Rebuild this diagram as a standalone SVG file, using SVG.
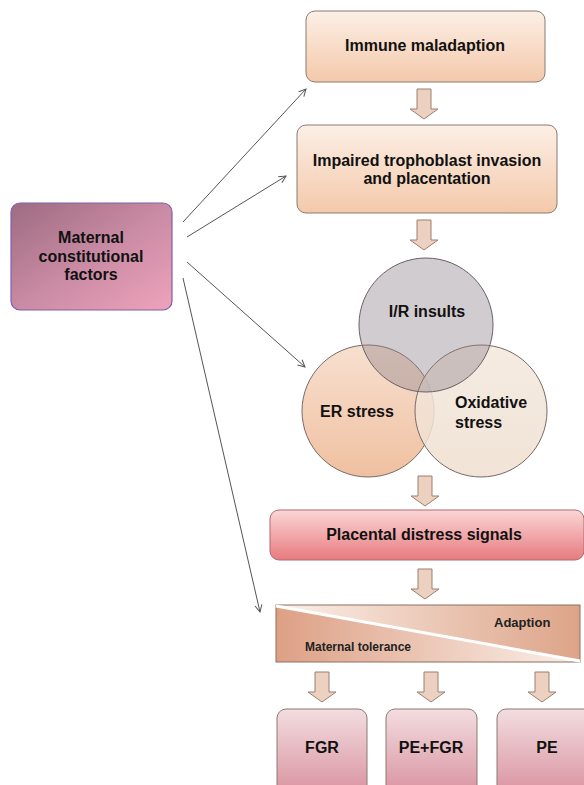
<svg xmlns="http://www.w3.org/2000/svg" width="584" height="785" viewBox="0 0 584 785">
<defs>
<linearGradient id="gMat" x1="0" y1="0" x2="1" y2="1"><stop offset="0" stop-color="#9c6c82"/><stop offset="0.5" stop-color="#c98aa3"/><stop offset="1" stop-color="#eea3bb"/></linearGradient>
<linearGradient id="gPeach" x1="0" y1="0" x2="0" y2="1"><stop offset="0" stop-color="#fcefe6"/><stop offset="1" stop-color="#f4c9aa"/></linearGradient>
<linearGradient id="gRed" x1="0" y1="0" x2="0" y2="1"><stop offset="0" stop-color="#fbd6d6"/><stop offset="1" stop-color="#e77b7f"/></linearGradient>
<linearGradient id="gOut" x1="0" y1="0" x2="0" y2="1"><stop offset="0" stop-color="#f2dde0"/><stop offset="1" stop-color="#d88e9c"/></linearGradient>
<linearGradient id="gER" x1="0" y1="0" x2="0" y2="1"><stop offset="0" stop-color="#f7e0d0"/><stop offset="1" stop-color="#f0c0a0"/></linearGradient>
<linearGradient id="gOx" x1="0" y1="0" x2="0" y2="1"><stop offset="0" stop-color="#f3e8dd"/><stop offset="1" stop-color="#efdfcf"/></linearGradient>
<linearGradient id="gAd" x1="0" y1="0" x2="1" y2="0"><stop offset="0" stop-color="#fbf0ea"/><stop offset="1" stop-color="#dda488"/></linearGradient>
<linearGradient id="gMt" x1="0" y1="0" x2="1" y2="0"><stop offset="0" stop-color="#dda085"/><stop offset="1" stop-color="#fbf0ea"/></linearGradient>
<marker id="ah" markerWidth="10" markerHeight="10" refX="8" refY="5" orient="auto" markerUnits="userSpaceOnUse"><path d="M1,1.5 L8,5 L1,8.5" fill="none" stroke="#555" stroke-width="1"/></marker>
<path id="blk" d="M-7,0 H7 V20 H14 L0,30 L-14,20 H-7 Z"/>
</defs>
<style>
.t{font-family:"Liberation Sans",Arial,sans-serif;font-weight:bold;font-size:16px;fill:#111;text-anchor:middle}
.l{text-anchor:start}
.s{font-family:"Liberation Sans",Arial,sans-serif;font-weight:bold;fill:#222}
.box{stroke:#8a7a70;stroke-width:1}
.ba{fill:#ecd0c0;stroke:#9a8070;stroke-width:1}
.con{stroke:#555;stroke-width:1;fill:none;marker-end:url(#ah)}
</style>
<rect width="584" height="785" fill="#fff"/>

<g id="connectors">
<line class="con" x1="183" y1="222" x2="306" y2="89"/>
<line class="con" x1="187" y1="237" x2="286" y2="176"/>
<line class="con" x1="187" y1="262" x2="305" y2="367"/>
<line class="con" x1="183" y1="278" x2="260" y2="612"/>
<use href="#blk" class="ba" x="424" y="89"/>
<use href="#blk" class="ba" x="424" y="220"/>
<use href="#blk" class="ba" x="425" y="476"/>
<use href="#blk" class="ba" x="425" y="569"/>
<use href="#blk" class="ba" x="322" y="672"/>
<use href="#blk" class="ba" x="431" y="672"/>
<use href="#blk" class="ba" x="542" y="672"/>
</g>

<g id="maternal">
<rect x="11" y="203" width="161" height="107" rx="9" fill="url(#gMat)" stroke="#8060a8" stroke-width="1.2"/>
<text class="t" x="91" y="243">Maternal</text>
<text class="t" x="91" y="262">constitutional</text>
<text class="t" x="91" y="280">factors</text>
</g>

<g id="immune">
<rect class="box" x="306" y="11" width="239" height="71" rx="9" fill="url(#gPeach)"/>
<text class="t" x="425" y="51">Immune maladaption</text>
</g>

<g id="impaired">
<rect class="box" x="297" y="125" width="260" height="88" rx="9" fill="url(#gPeach)"/>
<text class="t" x="427" y="166">Impaired trophoblast invasion</text>
<text class="t" x="427" y="184">and placentation</text>
</g>

<g id="er">
<circle cx="368" cy="411" r="66" fill="url(#gER)" stroke="#7a6a66" stroke-width="1"/>
<text class="t" x="357" y="417">ER stress</text>
</g>
<g id="oxidative">
<circle cx="481" cy="411" r="66" fill="url(#gOx)" fill-opacity="0.85" stroke="#7a6a66" stroke-width="1"/>
<text class="t l" x="455" y="408">Oxidative</text>
<text class="t l" x="455" y="428">stress</text>
</g>
<g id="ir">
<circle cx="426" cy="325" r="67" fill="#8c8088" fill-opacity="0.4" stroke="#6a6066" stroke-width="1"/>
<text class="t" x="427" y="317">I/R insults</text>
</g>

<g id="placental">
<rect x="270" y="510" width="314" height="50" rx="9" fill="url(#gRed)" stroke="#b06870" stroke-width="1"/>
<text class="t" x="424" y="540">Placental distress signals</text>
</g>

<g id="balance">
<polygon points="276,605 580,605 580,662" fill="url(#gAd)"/>
<polygon points="276,605 580,662 276,662" fill="url(#gMt)"/>
<rect x="276" y="605" width="304" height="57" fill="none" stroke="#8a7060" stroke-width="1"/>
<line x1="276" y1="606" x2="580" y2="661" stroke="#fff" stroke-width="3"/>
<text class="s" x="494" y="627" font-size="13">Adaption</text>
<text class="s" x="305" y="651" font-size="12">Maternal tolerance</text>
</g>

<g id="fgr">
<rect class="box" x="277" y="709" width="90" height="90" rx="9" fill="url(#gOut)"/>
<text class="t" x="322" y="753">FGR</text>
</g>
<g id="pefgr">
<rect class="box" x="386" y="709" width="91" height="90" rx="9" fill="url(#gOut)"/>
<text class="t" x="431" y="753">PE+FGR</text>
</g>
<g id="pe">
<rect class="box" x="497" y="709" width="100" height="90" rx="9" fill="url(#gOut)"/>
<text class="t" x="547" y="753">PE</text>
</g>
</svg>
